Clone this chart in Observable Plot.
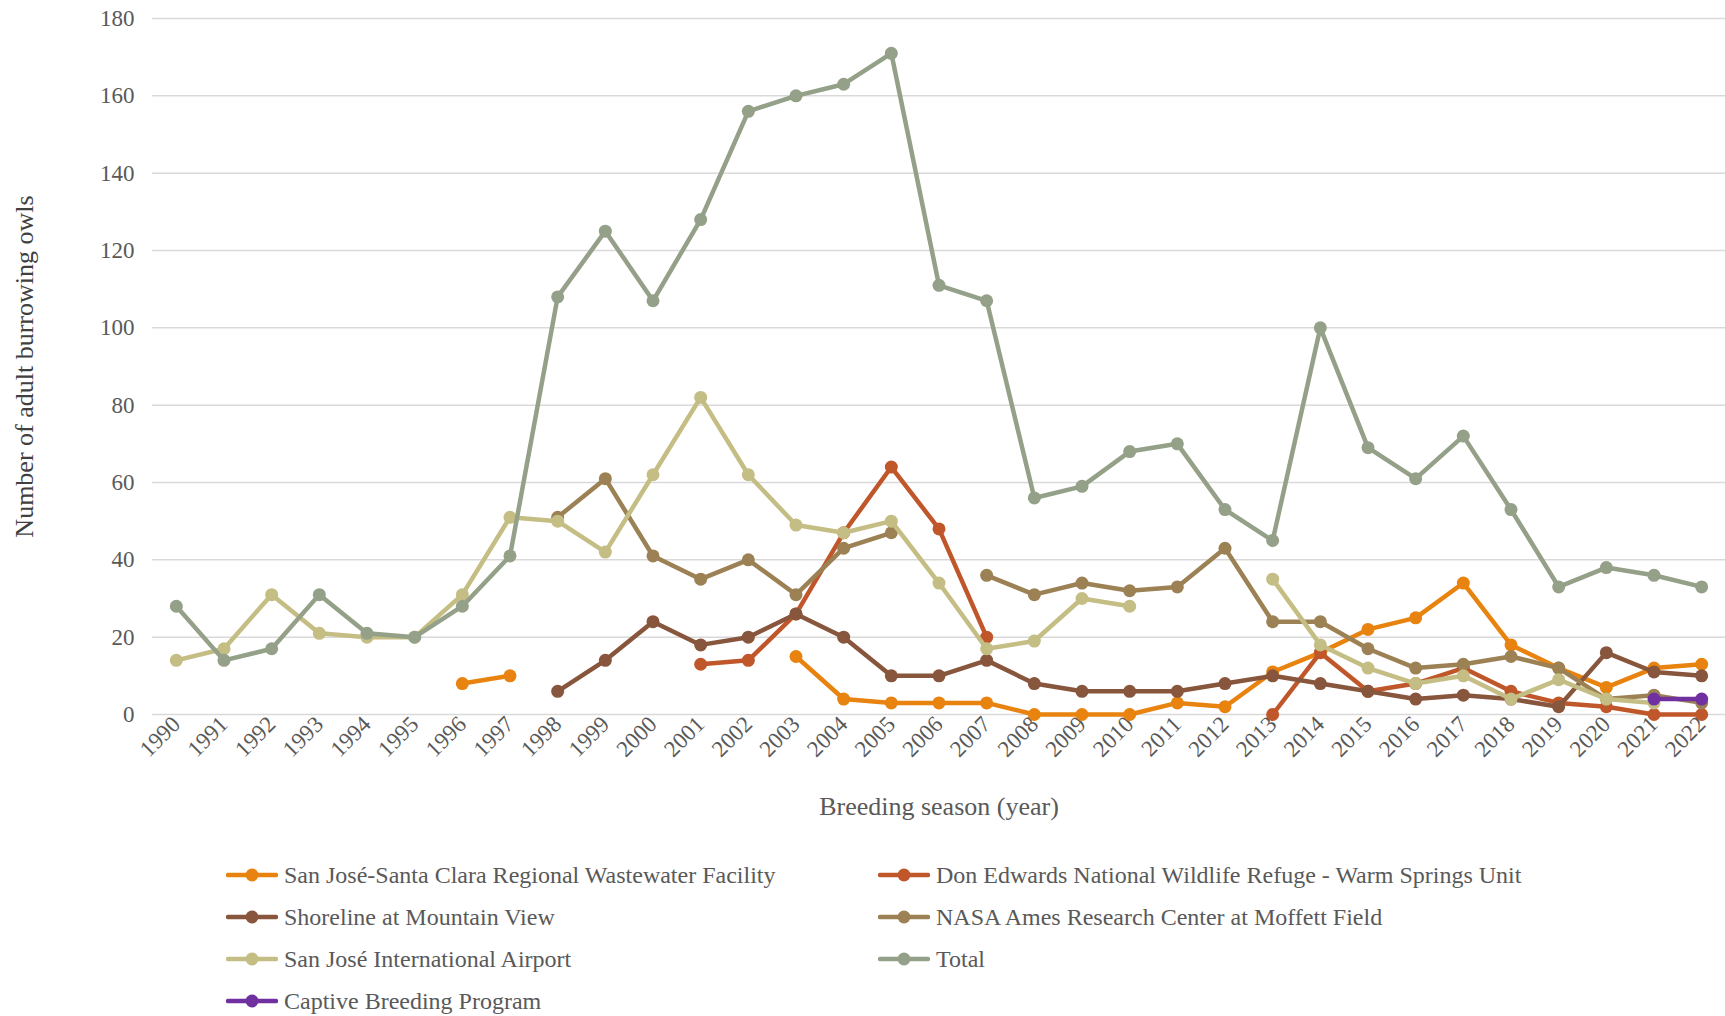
<!DOCTYPE html>
<html>
<head>
<meta charset="utf-8">
<script src="https://cdn.jsdelivr.net/npm/d3@7"></script>
<script src="https://cdn.jsdelivr.net/npm/@observablehq/plot@0.6"></script>
<style>
  html, body { margin: 0; padding: 0; background: #fff; }
  #chart svg { display: block; }
  #chart svg text { font-family: "Liberation Serif", "Times New Roman", serif; }
  .legend {
    display: grid;
    grid-template-columns: 652px auto;
    grid-auto-rows: 42px;
    margin-left: 226px;
    padding-top: 14px;
    font-family: "Liberation Serif", "Times New Roman", serif;
    font-size: 24px;
    color: #595959;
  }
  .legend .item { display: flex; align-items: center; white-space: nowrap; }
  .legend svg { margin-right: 6px; flex: none; }
</style>
</head>
<body>
<div id="chart"></div>
<div id="legend" class="legend"></div>
<script>
// Breeding seasons shown on the x axis
const years = [1990, 1991, 1992, 1993, 1994, 1995, 1996, 1997, 1998, 1999, 2000,
  2001, 2002, 2003, 2004, 2005, 2006, 2007, 2008, 2009, 2010, 2011, 2012,
  2013, 2014, 2015, 2016, 2017, 2018, 2019, 2020, 2021, 2022];

const yTicks = [0, 20, 40, 60, 80, 100, 120, 140, 160, 180];

const seriesNames = [
  "San José-Santa Clara Regional Wastewater Facility",
  "Don Edwards National Wildlife Refuge - Warm Springs Unit",
  "Shoreline at Mountain View",
  "NASA Ames Research Center at Moffett Field",
  "San José International Airport",
  "Total",
  "Captive Breeding Program"
];

// Adult burrowing owl counts per site (null = not surveyed / no record)
const wastewater = [null, null, null, null, null, null, 8, 10, null, null, null,
  null, null, 15, 4, 3, 3, 3, 0, 0, 0, 3, 2,
  11, 16, 22, 25, 34, 18, 12, 7, 12, 13];
const donEdwards = [null, null, null, null, null, null, null, null, null, null, null,
  13, 14, 26, 47, 64, 48, 20, null, null, null, null, null,
  0, 16, 6, 8, 12, 6, 3, 2, 0, 0];
const shoreline = [null, null, null, null, null, null, null, null, 6, 14, 24,
  18, 20, 26, 20, 10, 10, 14, 8, 6, 6, 6, 8,
  10, 8, 6, 4, 5, 4, 2, 16, 11, 10];
const nasaAmes = [null, null, null, null, null, null, null, null, 51, 61, 41,
  35, 40, 31, 43, 47, null, 36, 31, 34, 32, 33, 43,
  24, 24, 17, 12, 13, 15, 12, 4, 5, 3];
const airport = [14, 17, 31, 21, 20, 20, 31, 51, 50, 42, 62,
  82, 62, 49, 47, 50, 34, 17, 19, 30, 28, null, null,
  35, 18, 12, 8, 10, 4, 9, 4, 3, null];
const total = [28, 14, 17, 31, 21, 20, 28, 41, 108, 125, 107,
  128, 156, 160, 163, 171, 111, 107, 56, 59, 68, 70, 53,
  45, 100, 69, 61, 72, 53, 33, 38, 36, 33];
const captive = [null, null, null, null, null, null, null, null, null, null, null,
  null, null, null, null, null, null, null, null, null, null, null, null,
  null, null, null, null, null, null, null, null, 4, 4];

const seriesValues = [wastewater, donEdwards, shoreline, nasaAmes, airport, total, captive];
const seriesColors = ["#E8830F", "#C0572B", "#87563D", "#9C8155", "#C4BD84", "#94A088", "#7030A0"];

// Long-format rows, one per series and year
const rows = seriesNames.map((name, s) =>
  years.map((year, i) => ({series: name, year, value: seriesValues[s][i]}))
);

const width = 1725, height = 840;
const font = '"Liberation Serif", "Times New Roman", serif';

const seriesMarks = rows.flatMap((data, s) => [
  Plot.line(data, {
    x: "year", y: "value",
    stroke: seriesColors[s], strokeWidth: 4.5,
    strokeLinejoin: "round", strokeLinecap: "round"
  }),
  Plot.dot(data.filter(d => d.value != null), {
    x: "year", y: "value", r: 6.5, fill: seriesColors[s], stroke: "none"
  })
]);

const chart = Plot.plot({
  width, height,
  marginLeft: 152, marginRight: 0, marginTop: 18, marginBottom: 126,
  style: {fontFamily: font, fontSize: "23px", color: "#595959", background: "#fff"},
  x: {type: "point", domain: years, padding: 0.5, round: false},
  y: {domain: [0, 180]},
  marks: [
    Plot.ruleY(yTicks, {stroke: "#D9D9D9", strokeWidth: 1.5}),
    Plot.axisY(yTicks, {tickSize: 0, tickPadding: 18, fontSize: 23, fontFamily: font,
      fontVariant: "normal", label: null}),
    Plot.axisX(years, {tickSize: 0, tickRotate: -45, tickPadding: 6, fontSize: 23,
      fontFamily: font, fontVariant: "normal", tickFormat: d => String(d), label: null}),
    ...seriesMarks,
    Plot.text(["Number of adult burrowing owls"], {
      frameAnchor: "left", dx: -128, rotate: -90, textAnchor: "middle",
      lineAnchor: "middle", fontSize: 26, fill: "#404040"
    }),
    Plot.text(["Breeding season (year)"], {
      frameAnchor: "bottom", dy: 92, textAnchor: "middle", lineAnchor: "middle",
      fontSize: 26, fill: "#595959"
    })
  ]
});
document.getElementById("chart").appendChild(chart);

// Legend: two columns of line-and-marker swatches
const legend = d3.select("#legend");
seriesNames.forEach((name, s) => {
  const item = legend.append("div").attr("class", "item");
  const sw = item.append("svg").attr("width", 52).attr("height", 20);
  sw.append("line").attr("x1", 2).attr("x2", 50).attr("y1", 10).attr("y2", 10)
    .attr("stroke", seriesColors[s]).attr("stroke-width", 4.5).attr("stroke-linecap", "round");
  sw.append("circle").attr("cx", 26).attr("cy", 10).attr("r", 6.5).attr("fill", seriesColors[s]);
  item.append("span").text(name);
});
</script>
</body>
</html>
